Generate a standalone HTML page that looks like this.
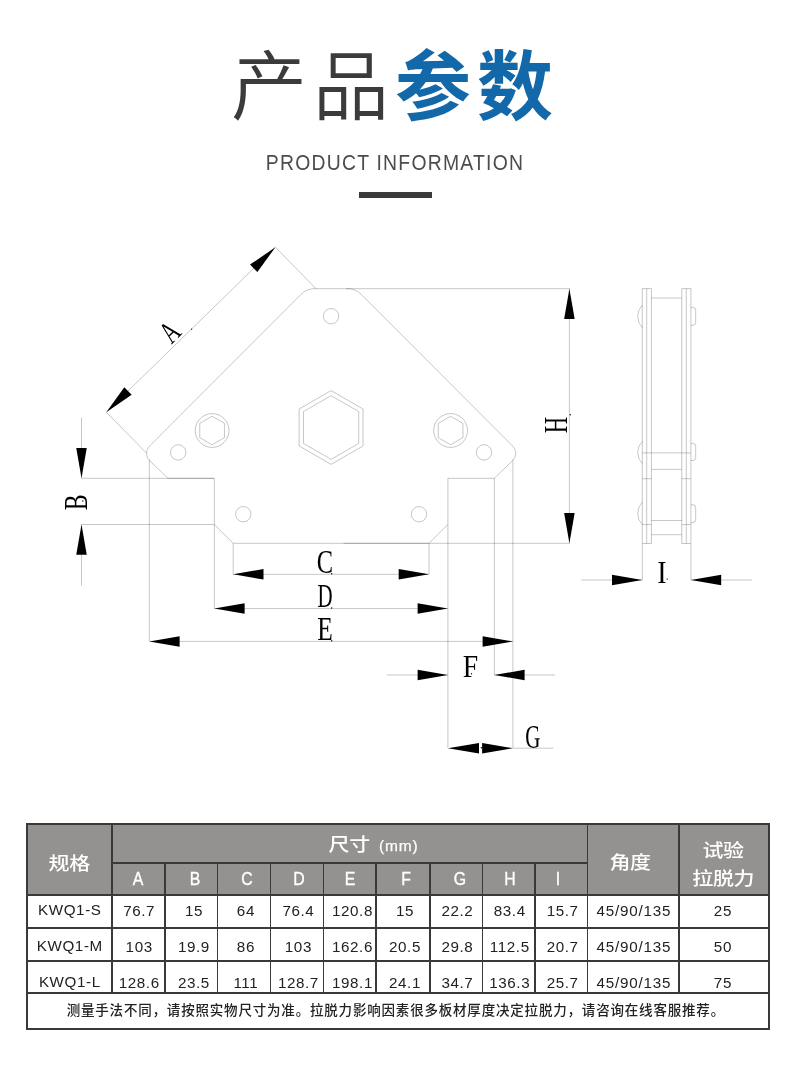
<!DOCTYPE html>
<html lang="zh-CN"><head><meta charset="utf-8"><title>产品参数</title>
<style>
html,body{margin:0;padding:0;background:#fff}
body{width:790px;height:1092px;position:relative;overflow:hidden;font-family:"Liberation Sans","Noto Sans CJK SC",sans-serif}
.abs,.tb,.ln,.hc,.hl,.hm,.td,.nt{position:absolute}
.ln{background:#3b3836}
.t1{left:0;top:33px;width:790px;text-align:center;white-space:nowrap;font-size:76px;line-height:110px;letter-spacing:6px;color:#3b3b3b;font-weight:350}
.t1 b{color:#1368a9;font-weight:700}
.t2{left:0;width:790px;top:148.6px;text-align:center;font-size:22.5px;line-height:28px;color:#4c4c4c;letter-spacing:1.45px;white-space:nowrap;transform:scaleX(0.86);transform-origin:395px 0}
.bar{left:359px;top:192px;width:73px;height:6px;background:#3a3a3a}
.hc,.hl,.hm,.td,.nt{text-align:center;white-space:nowrap}
.hc{color:#fff;font-weight:500;letter-spacing:-0.4px;transform:scaleY(0.87)}
.hm{color:#fff;letter-spacing:0.9px;-webkit-text-stroke:0.25px #fff}
.hl{color:#fff;-webkit-text-stroke:0.35px #fff;transform:scaleX(0.9)}
.td{color:#222;letter-spacing:0.6px}
.nt{color:#222;font-size:13.5px;line-height:20px;letter-spacing:0.81px;font-weight:500;text-align:left}
svg{position:absolute;left:0;top:0}
.wrap{position:absolute;left:0;top:0;width:790px;height:1092px;will-change:transform}
</style></head><body><div class="wrap">
<div class="abs t1">产品<b>参数</b></div>
<div class="abs t2">PRODUCT INFORMATION</div>
<div class="abs bar"></div>
<svg width="790" height="1092" viewBox="0 0 790 1092">
<g fill="none" stroke="#000" stroke-width="0.9" stroke-opacity="0.25">
<path d="M301.13 294.27 A19 19 0 0 1 314.58 288.7 L347.62 288.7 A19 19 0 0 1 361.07 294.27 L512.82 446.22 A10 10 0 0 1 512.71 460.46 L494.3 478.3 L447.9 478.3 L447.9 524.5 L429 543.3 L233.2 543.3 L214.3 524.5 L214.3 478.3 L167.9 478.3 L149.49 460.46 A10 10 0 0 1 149.38 446.22 Z"/>
<circle cx="331.1" cy="316.2" r="7.7"/>
<circle cx="178.2" cy="452.4" r="7.7"/>
<circle cx="484" cy="452.4" r="7.7"/>
<circle cx="243.3" cy="514.2" r="7.7"/>
<circle cx="419" cy="514.2" r="7.7"/>
<polygon points="331.1,390.6 299.14,409.05 299.14,445.95 331.1,464.4 363.06,445.95 363.06,409.05"/>
<polygon points="331.1,395.6 303.47,411.55 303.47,443.45 331.1,459.4 358.73,443.45 358.73,411.55"/>
<circle cx="212.1" cy="430.5" r="16.9"/>
<polygon points="212.1,416.25 199.76,423.38 199.76,437.62 212.1,444.75 224.44,437.62 224.44,423.38"/>
<circle cx="450.6" cy="430.5" r="16.9"/>
<polygon points="450.6,416.25 438.26,423.38 438.26,437.62 450.6,444.75 462.94,437.62 462.94,423.38"/>
<path d="M149.3 459.6L149.3 641.4"/>
<path d="M512.9 459.6L512.9 748.2"/>
<path d="M214.3 524.5L214.3 608.6"/>
<path d="M447.9 524.5L447.9 748.2"/>
<path d="M494.3 478.3L494.3 675"/>
<path d="M233.2 543.3L233.2 574.3"/>
<path d="M429 543.3L429 574.3"/>
<path d="M81.5 478.3L214.3 478.3"/>
<path d="M81.5 524.5L214.3 524.5"/>
<path d="M346 288.7L570 288.7"/>
<path d="M343.5 543.3L570 543.3"/>
<path d="M106.3 412.2L146.6 453.2"/>
<path d="M275.4 247.2L316 288.7"/>
<path d="M106.3 412.2L275.4 247.2"/>
<path d="M81.5 417.5L81.5 478.3"/>
<path d="M81.5 524.5L81.5 585.6"/>
<path d="M233.2 574.3L429 574.3"/>
<path d="M214.3 608.6L447.9 608.6"/>
<path d="M149.3 641.4L512.9 641.4"/>
<path d="M387.1 675L447.9 675"/>
<path d="M494.3 675L555.2 675"/>
<path d="M512.9 748.2L553.4 748.2"/>
<path d="M569.4 288.7L569.4 543.3"/>
<path d="M581.3 580L642.3 580"/>
<path d="M690.9 580L752.2 580"/>
<path d="M642.3 288.6L642.3 543.5"/>
<path d="M646.7 288.6L646.7 543.5"/>
<path d="M651.4 288.6L651.4 543.5"/>
<path d="M681.8 288.6L681.8 543.5"/>
<path d="M686.3 288.6L686.3 543.5"/>
<path d="M690.9 288.6L690.9 543.5"/>
<path d="M642.3 288.6L651.4 288.6"/>
<path d="M681.8 288.6L690.9 288.6"/>
<path d="M642.3 543.5L651.4 543.5"/>
<path d="M681.8 543.5L690.9 543.5"/>
<path d="M651.4 298L681.8 298"/>
<path d="M642.3 452.9L690.9 452.9"/>
<path d="M651.4 469.4L681.8 469.4"/>
<path d="M642.3 478.7L651.4 478.7"/>
<path d="M681.8 478.7L690.9 478.7"/>
<path d="M651.4 520.5L681.8 520.5"/>
<path d="M642.3 524.6L651.4 524.6"/>
<path d="M681.8 524.6L690.9 524.6"/>
<path d="M651.4 534.7L681.8 534.7"/>
<path d="M642.3 543.5L642.3 580"/>
<path d="M690.9 543.5L690.9 580"/>
<path d="M642.3 305A16.43 16.43 0 0 0 642.3 327.8"/>
<path d="M642.3 441.5A15.45 15.45 0 0 0 642.3 463.5"/>
<path d="M642.3 502.3A15.81 15.81 0 0 0 642.3 524.6"/>
<path d="M690.9 307.3L692.7 307.3A3 3 0 0 1 695.7 310.3L695.7 322.3A3 3 0 0 1 692.7 325.3L690.9 325.3"/>
<path d="M690.9 443.3L692.7 443.3A3 3 0 0 1 695.7 446.3L695.7 457.5A3 3 0 0 1 692.7 460.5L690.9 460.5"/>
<path d="M690.9 504.8L692.7 504.8A3 3 0 0 1 695.7 507.8L695.7 519.5A3 3 0 0 1 692.7 522.5L690.9 522.5"/>
</g>
<g fill="#000">
<polygon points="106.3,412.2 131.65,394.8 124.32,387.28"/>
<polygon points="275.4,247.2 250.05,264.6 257.38,272.12"/>
<polygon points="81.5,478.3 86.75,448 76.25,448"/>
<polygon points="81.5,524.5 76.25,554.8 86.75,554.8"/>
<polygon points="233.2,574.3 263.5,579.55 263.5,569.05"/>
<polygon points="429,574.3 398.7,569.05 398.7,579.55"/>
<polygon points="214.3,608.6 244.6,613.85 244.6,603.35"/>
<polygon points="447.9,608.6 417.6,603.35 417.6,613.85"/>
<polygon points="149.3,641.4 179.6,646.65 179.6,636.15"/>
<polygon points="512.9,641.4 482.6,636.15 482.6,646.65"/>
<polygon points="447.9,675 417.6,669.75 417.6,680.25"/>
<polygon points="494.3,675 524.6,680.25 524.6,669.75"/>
<polygon points="447.9,748.2 479,753.45 479,742.95"/>
<polygon points="512.9,748.2 482.1,742.95 482.1,753.45"/>
<polygon points="569.4,288.7 564.15,319 574.65,319"/>
<polygon points="569.4,543.3 574.65,513 564.15,513"/>
<polygon points="642.3,580 612,574.75 612,585.25"/>
<polygon points="690.9,580 721.2,585.25 721.2,574.75"/>
</g>
<g font-family="'Liberation Serif', serif" fill="#000">
<text transform="translate(324.8 572.8) rotate(0) scale(0.74 1)" text-anchor="middle" font-size="33">C</text>
<text transform="translate(325 606.7) rotate(0) scale(0.635 1)" text-anchor="middle" font-size="33">D</text>
<text transform="translate(324.9 639.9) rotate(0) scale(0.77 1)" text-anchor="middle" font-size="33">E</text>
<text transform="translate(470.4 677.4) rotate(0) scale(0.84 0.96)" text-anchor="middle" font-size="33">F</text>
<text transform="translate(532.8 748) rotate(0) scale(0.635 1)" text-anchor="middle" font-size="33">G</text>
<text transform="translate(661.9 583) rotate(0) scale(0.85 0.96)" text-anchor="middle" font-size="33">I</text>
<text transform="translate(177 339.1) rotate(-45) scale(0.66 0.95)" text-anchor="middle" font-size="33">A</text>
<text transform="translate(86.6 502.4) rotate(-90) scale(0.72 1)" text-anchor="middle" font-size="33">B</text>
<text transform="translate(566.6 425) rotate(-90) scale(0.69 1)" text-anchor="middle" font-size="33">H</text>
</g>
<g fill="#000">
<circle cx="331.7" cy="573.7" r="0.7"/>
<circle cx="331.7" cy="608" r="0.7"/>
<circle cx="331.7" cy="640.7" r="0.7"/>
<circle cx="471.5" cy="673.7" r="0.7"/>
<circle cx="667.2" cy="579.1" r="0.7"/>
<circle cx="191.6" cy="329.1" r="0.7"/>
<circle cx="570.2" cy="414.8" r="0.7"/>
<circle cx="82.8" cy="501" r="0.7"/>
<circle cx="481.4" cy="747.7" r="0.7"/>
</g>
</svg>
<div class="tb" style="left:27px;top:824px;width:741.6px;height:71.20000000000005px;background:#949290"></div>
<div class="ln" style="left:26.00px;top:823.00px;width:743.60px;height:2px"></div>
<div class="ln" style="left:26.00px;top:1027.60px;width:743.60px;height:2px"></div>
<div class="ln" style="left:26.00px;top:823.00px;width:2px;height:206.60px"></div>
<div class="ln" style="left:767.60px;top:823.00px;width:2px;height:206.60px"></div>
<div class="ln" style="left:111.20px;top:862.20px;width:477.20px;height:1.6px"></div>
<div class="ln" style="left:26.20px;top:894.40px;width:743.20px;height:1.6px"></div>
<div class="ln" style="left:26.20px;top:927.20px;width:743.20px;height:1.6px"></div>
<div class="ln" style="left:26.20px;top:960.20px;width:743.20px;height:1.6px"></div>
<div class="ln" style="left:26.20px;top:992.20px;width:743.20px;height:1.6px"></div>
<div class="ln" style="left:111.20px;top:823.20px;width:1.6px;height:170.60px"></div>
<div class="ln" style="left:586.80px;top:823.20px;width:1.6px;height:170.60px"></div>
<div class="ln" style="left:678.20px;top:823.20px;width:1.6px;height:170.60px"></div>
<div class="ln" style="left:164.20px;top:862.20px;width:1.6px;height:131.60px"></div>
<div class="ln" style="left:216.90px;top:862.20px;width:1.6px;height:131.60px"></div>
<div class="ln" style="left:269.70px;top:862.20px;width:1.6px;height:131.60px"></div>
<div class="ln" style="left:322.50px;top:862.20px;width:1.6px;height:131.60px"></div>
<div class="ln" style="left:375.20px;top:862.20px;width:1.6px;height:131.60px"></div>
<div class="ln" style="left:429.00px;top:862.20px;width:1.6px;height:131.60px"></div>
<div class="ln" style="left:481.90px;top:862.20px;width:1.6px;height:131.60px"></div>
<div class="ln" style="left:534.40px;top:862.20px;width:1.6px;height:131.60px"></div>
<div class="hc" style="left:-30.80px;width:200px;top:852.22px;font-size:21px;line-height:24px;">规格</div>
<div class="hc" style="left:249.20px;width:200px;top:832.72px;font-size:21px;line-height:24px;">尺寸</div>
<div class="hm" style="left:298.80px;width:200px;top:834.43px;font-size:15.5px;line-height:24px;">(mm)</div>
<div class="hc" style="left:530.10px;width:200px;top:851.42px;font-size:21px;line-height:24px;">角度</div>
<div class="hc" style="left:623.10px;width:200px;top:838.62px;font-size:21px;line-height:24px;">试验</div>
<div class="hc" style="left:623.20px;width:200px;top:866.72px;font-size:21px;line-height:24px;">拉脱力</div>
<div class="hl" style="left:38.10px;width:200px;top:866.80px;font-size:17.6px;line-height:24px;">A</div>
<div class="hl" style="left:95.00px;width:200px;top:866.80px;font-size:17.6px;line-height:24px;">B</div>
<div class="hl" style="left:146.80px;width:200px;top:866.80px;font-size:17.6px;line-height:24px;">C</div>
<div class="hl" style="left:198.50px;width:200px;top:866.80px;font-size:17.6px;line-height:24px;">D</div>
<div class="hl" style="left:250.10px;width:200px;top:866.80px;font-size:17.6px;line-height:24px;">E</div>
<div class="hl" style="left:306.30px;width:200px;top:866.80px;font-size:17.6px;line-height:24px;">F</div>
<div class="hl" style="left:359.70px;width:200px;top:866.80px;font-size:17.6px;line-height:24px;">G</div>
<div class="hl" style="left:409.60px;width:200px;top:866.80px;font-size:17.6px;line-height:24px;">H</div>
<div class="hl" style="left:458.00px;width:200px;top:866.80px;font-size:17.6px;line-height:24px;">I</div>
<div class="td" style="left:9.80px;width:120px;top:900.13px;font-size:15.2px;line-height:20px;">KWQ1-S</div>
<div class="td" style="left:79.20px;width:120px;top:901.03px;font-size:15.2px;line-height:20px;">76.7</div>
<div class="td" style="left:133.95px;width:120px;top:901.03px;font-size:15.2px;line-height:20px;">15</div>
<div class="td" style="left:185.90px;width:120px;top:901.03px;font-size:15.2px;line-height:20px;">64</div>
<div class="td" style="left:238.40px;width:120px;top:901.03px;font-size:15.2px;line-height:20px;">76.4</div>
<div class="td" style="left:292.45px;width:120px;top:901.03px;font-size:15.2px;line-height:20px;">120.8</div>
<div class="td" style="left:345.00px;width:120px;top:901.03px;font-size:15.2px;line-height:20px;">15</div>
<div class="td" style="left:397.45px;width:120px;top:901.03px;font-size:15.2px;line-height:20px;">22.2</div>
<div class="td" style="left:449.75px;width:120px;top:901.03px;font-size:15.2px;line-height:20px;">83.4</div>
<div class="td" style="left:502.70px;width:120px;top:901.03px;font-size:15.2px;line-height:20px;">15.7</div>
<div class="td" style="left:573.90px;width:120px;top:901.03px;font-size:15.2px;line-height:20px;letter-spacing:0.8px">45/90/135</div>
<div class="td" style="left:662.90px;width:120px;top:901.03px;font-size:15.2px;line-height:20px;">25</div>
<div class="td" style="left:9.80px;width:120px;top:935.83px;font-size:15.2px;line-height:20px;">KWQ1-M</div>
<div class="td" style="left:79.20px;width:120px;top:936.73px;font-size:15.2px;line-height:20px;">103</div>
<div class="td" style="left:133.95px;width:120px;top:936.73px;font-size:15.2px;line-height:20px;">19.9</div>
<div class="td" style="left:185.90px;width:120px;top:936.73px;font-size:15.2px;line-height:20px;">86</div>
<div class="td" style="left:238.40px;width:120px;top:936.73px;font-size:15.2px;line-height:20px;">103</div>
<div class="td" style="left:292.45px;width:120px;top:936.73px;font-size:15.2px;line-height:20px;">162.6</div>
<div class="td" style="left:345.00px;width:120px;top:936.73px;font-size:15.2px;line-height:20px;">20.5</div>
<div class="td" style="left:397.45px;width:120px;top:936.73px;font-size:15.2px;line-height:20px;">29.8</div>
<div class="td" style="left:449.75px;width:120px;top:936.73px;font-size:15.2px;line-height:20px;">112.5</div>
<div class="td" style="left:502.70px;width:120px;top:936.73px;font-size:15.2px;line-height:20px;">20.7</div>
<div class="td" style="left:573.90px;width:120px;top:936.73px;font-size:15.2px;line-height:20px;letter-spacing:0.8px">45/90/135</div>
<div class="td" style="left:662.90px;width:120px;top:936.73px;font-size:15.2px;line-height:20px;">50</div>
<div class="td" style="left:9.80px;width:120px;top:971.83px;font-size:15.2px;line-height:20px;">KWQ1-L</div>
<div class="td" style="left:79.20px;width:120px;top:972.73px;font-size:15.2px;line-height:20px;">128.6</div>
<div class="td" style="left:133.95px;width:120px;top:972.73px;font-size:15.2px;line-height:20px;">23.5</div>
<div class="td" style="left:185.90px;width:120px;top:972.73px;font-size:15.2px;line-height:20px;">111</div>
<div class="td" style="left:238.40px;width:120px;top:972.73px;font-size:15.2px;line-height:20px;">128.7</div>
<div class="td" style="left:292.45px;width:120px;top:972.73px;font-size:15.2px;line-height:20px;">198.1</div>
<div class="td" style="left:345.00px;width:120px;top:972.73px;font-size:15.2px;line-height:20px;">24.1</div>
<div class="td" style="left:397.45px;width:120px;top:972.73px;font-size:15.2px;line-height:20px;">34.7</div>
<div class="td" style="left:449.75px;width:120px;top:972.73px;font-size:15.2px;line-height:20px;">136.3</div>
<div class="td" style="left:502.70px;width:120px;top:972.73px;font-size:15.2px;line-height:20px;">25.7</div>
<div class="td" style="left:573.90px;width:120px;top:972.73px;font-size:15.2px;line-height:20px;letter-spacing:0.8px">45/90/135</div>
<div class="td" style="left:662.90px;width:120px;top:972.73px;font-size:15.2px;line-height:20px;">75</div>
<div class="nt" style="left:66.7px;top:1001.22px">测量手法不同，请按照实物尺寸为准。拉脱力影响因素很多板材厚度决定拉脱力，请咨询在线客服推荐。</div>
</div></body></html>
